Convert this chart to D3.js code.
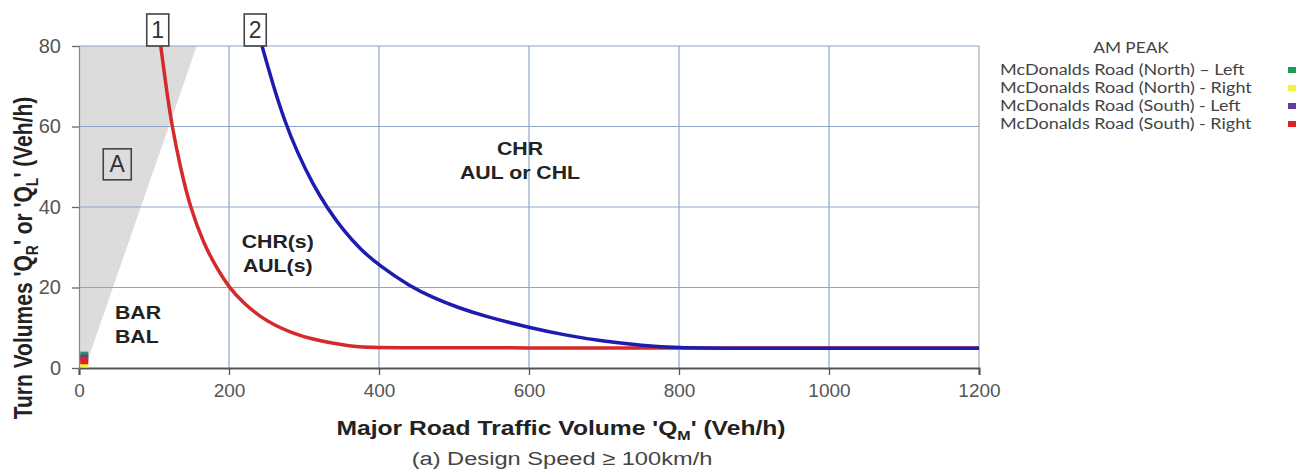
<!DOCTYPE html>
<html>
<head>
<meta charset="utf-8">
<script src="https://cdn.jsdelivr.net/npm/d3@7"></script>
<style>
  html, body { margin: 0; padding: 0; background: #fff; }
  svg { display: block; }
</style>
</head>
<body>
<svg id="chart" width="1312" height="472"></svg>
<script>
// ---------- DATA ----------
const xTicks = [0, 200, 400, 600, 800, 1000, 1200];
const yTicks = [0, 20, 40, 60, 80];

// Curve 1 (red)
const curve1X = [109, 116, 124, 135, 148, 166, 183, 200, 220, 241, 262, 286, 310, 339, 370, 400, 600, 800, 1000, 1200];
const curve1Y = [80, 70, 60, 50, 40, 31, 25, 20, 16, 12.8, 10.5, 8.6, 7.2, 6.1, 5.2, 5, 5, 5, 5, 5];

// Curve 2 (blue)
const curve2X = [244, 260, 275, 290, 312, 332, 352, 375, 400, 441, 472, 505, 544, 601, 650, 700, 750, 800, 860, 1000, 1200];
const curve2Y = [80, 69.5, 61, 54, 45.5, 39.5, 34.3, 29.5, 25.5, 20.3, 17.5, 15, 12.7, 10, 8.1, 6.6, 5.6, 5.0, 4.9, 4.9, 4.9];

// Shaded region A
const regionAX = [0, 8, 157, 0];
const regionAY = [0, 0, 80, 80];

// Observed AM peak turn volumes
const legendTitle = "AM PEAK";
const pointNames = ["McDonalds Road (North) \u2013 Left", "McDonalds Road (North) - Right", "McDonalds Road (South) - Left", "McDonalds Road (South) - Right"];
const pointColors = ["#1f9a5c", "#f2f23a", "#6a3a9a", "#dd2222"];
const pointQM = [7, 7, 7, 7];
const pointQT = [3.2, 1.0, 2.5, 1.8];

// Region labels
const regionLabels = [
  { lines: ["CHR", "AUL or CHL"], qm: 588, qt: 52.9, anchor: "middle" },
  { lines: ["CHR(s)", "AUL(s)"], qm: 265, qt: 29.8, anchor: "middle" },
  { lines: ["BAR", "BAL"], qm: 48, qt: 12.2, anchor: "start" }
];
const boxLabels = [
  { text: "1", qm: 105, qt: 80 },
  { text: "2", qm: 235, qt: 80 },
  { text: "A", qm: 51, qt: 50.6 }
];

// ---------- CHART ----------
const svg = d3.select("#chart");
const x = d3.scaleLinear().domain([0, 1200]).range([79, 979]);
const y = d3.scaleLinear().domain([0, 80]).range([368, 46]);

const gridColor = "#8ea5c8";
const fontMain = "'Liberation Sans', Arial, sans-serif";

// helper: horizontally stretched text
function stretched(cx, by, sx, anchor, attrs, build) {
  const g = svg.append("g").attr("transform", `translate(${cx},${by}) scale(${sx},1)`);
  const t = g.append("text").attr("x", 0).attr("y", 0);
  Object.entries(attrs).forEach(([k, v]) => t.attr(k, v));
  build(t);
  const len = t.node().getComputedTextLength();
  if (anchor === "middle") t.attr("x", -len / 2);
  return t;
}

// shaded region A
svg.append("path")
  .datum(regionAX.map((v, i) => [v, regionAY[i]]))
  .attr("d", d3.line().x(d => x(d[0])).y(d => y(d[1])))
  .attr("fill", "#dcdcdc");

// gridlines
svg.append("g").selectAll("line").data(xTicks.filter(t => t > 0 && t < 1200)).join("line")
  .attr("x1", d => x(d)).attr("x2", d => x(d))
  .attr("y1", y(0)).attr("y2", y(80))
  .attr("stroke", gridColor).attr("stroke-width", 1.2);
svg.append("g").selectAll("line").data(yTicks.filter(t => t > 0)).join("line")
  .attr("x1", x(0)).attr("x2", x(1200))
  .attr("y1", d => y(d)).attr("y2", d => y(d))
  .attr("stroke", gridColor).attr("stroke-width", 1.2);

// right border
svg.append("line").attr("x1", x(1200)).attr("x2", x(1200)).attr("y1", y(0)).attr("y2", y(80))
  .attr("stroke", "#aaaaaa").attr("stroke-width", 1.2);

// axes
const xAxis = d3.axisBottom(x).tickValues(xTicks).tickSize(7).tickPadding(9).tickFormat(d3.format("d"));
const gx = svg.append("g").attr("transform", `translate(0,${y(0)})`).call(xAxis);
gx.select(".domain").attr("stroke", "#555").attr("stroke-width", 2);
gx.selectAll(".tick line").attr("stroke", "#555").attr("stroke-width", 1.3);
gx.selectAll(".tick text").attr("font-family", fontMain).attr("font-size", 19).attr("fill", "#555");

const yAxis = d3.axisLeft(y).tickValues(yTicks).tickSize(7).tickPadding(11);
const gy = svg.append("g").attr("transform", `translate(${x(0)},0)`).call(yAxis);
gy.select(".domain").attr("stroke", "#888").attr("stroke-width", 1.2);
gy.selectAll(".tick line").attr("stroke", "#666").attr("stroke-width", 1.3);
gy.selectAll(".tick text").attr("font-family", fontMain).attr("font-size", 20).attr("fill", "#555");

// curves
const curveLine = d3.line().x(d => x(d[0])).y(d => y(d[1])).curve(d3.curveBasis);
svg.append("path")
  .datum(curve1X.map((v, i) => [v, curve1Y[i]]))
  .attr("d", curveLine)
  .attr("fill", "none").attr("stroke", "#d62a2a").attr("stroke-width", 3.5);
svg.append("path")
  .datum(curve2X.map((v, i) => [v, curve2Y[i]]))
  .attr("d", curveLine)
  .attr("fill", "none").attr("stroke", "#1c1cae").attr("stroke-width", 3.5);

// region labels
regionLabels.forEach(r => {
  r.lines.forEach((l, i) => {
    stretched(x(r.qm), y(r.qt) + i * 24, 1.12, r.anchor,
      { "font-family": fontMain, "font-weight": "bold", "font-size": 19, "fill": "#222" },
      t => t.text(l));
  });
});

// boxed labels
boxLabels.forEach((b, i) => {
  const w = i < 2 ? 22 : 28, h = i < 2 ? 32 : 31;
  const cx = x(b.qm);
  const top = i < 2 ? y(b.qt) - h : y(b.qt) - h / 2;
  svg.append("rect").attr("x", cx - w / 2).attr("y", top).attr("width", w).attr("height", h)
    .attr("fill", "none").attr("stroke", "#444").attr("stroke-width", 1.6);
  svg.append("text").attr("x", cx).attr("y", top + h / 2 + 8)
    .attr("text-anchor", "middle").attr("font-family", fontMain)
    .attr("font-size", 23).attr("fill", "#333").text(b.text);
});

// data points
svg.append("g").selectAll("rect").data(pointQM.map((v, i) => ({ qm: v, qt: pointQT[i], c: pointColors[i] }))).join("rect")
  .attr("x", d => x(d.qm) - 4).attr("y", d => y(d.qt) - 3.5)
  .attr("width", 8).attr("height", 7)
  .attr("fill", d => d.c);

// x axis title
stretched(561, 435, 1.233, "middle",
  { "font-family": fontMain, "font-weight": "bold", "font-size": 20, "fill": "#222" },
  t => {
    t.append("tspan").text("Major Road Traffic Volume 'Q");
    t.append("tspan").attr("font-size", 13).attr("dy", 5).text("M");
    t.append("tspan").attr("dy", -5).text("' (Veh/h)");
  });

stretched(562, 465, 1.245, "middle",
  { "font-family": fontMain, "font-size": 19, "fill": "#444" },
  t => t.text("(a) Design Speed \u2265 100km/h"));

// y axis title (rotated)
{
  const g = svg.append("g").attr("transform", `translate(32,258) scale(1.2,1) rotate(-90)`);
  const t = g.append("text").attr("x", 0).attr("y", 0)
    .attr("font-family", fontMain).attr("font-weight", "bold").attr("font-size", 21).attr("fill", "#222");
  t.append("tspan").text("Turn Volumes 'Q");
  t.append("tspan").attr("font-size", 14).attr("dy", 5).text("R");
  t.append("tspan").attr("dy", -5).text("' or 'Q");
  t.append("tspan").attr("font-size", 14).attr("dy", 5).text("L");
  t.append("tspan").attr("dy", -5).text("' (Veh/h)");
  const len = t.node().getComputedTextLength();
  t.attr("x", -len / 2);
}

// legend
const legendFont = "Lato, 'Open Sans', sans-serif";
stretched(1131, 53, 1.15, "middle",
  { "font-family": legendFont, "font-size": 15, "fill": "#444" }, t => t.text(legendTitle));
pointNames.forEach((name, i) => {
  const cy = 70 + i * 18;
  stretched(1000, cy + 5, 1.2, "start",
    { "font-family": legendFont, "font-size": 15, "fill": "#444" }, t => t.text(name));
  svg.append("rect").attr("x", 1288).attr("y", cy - 3).attr("width", 8).attr("height", 6)
    .attr("fill", pointColors[i]);
});
</script>
</body>
</html>
